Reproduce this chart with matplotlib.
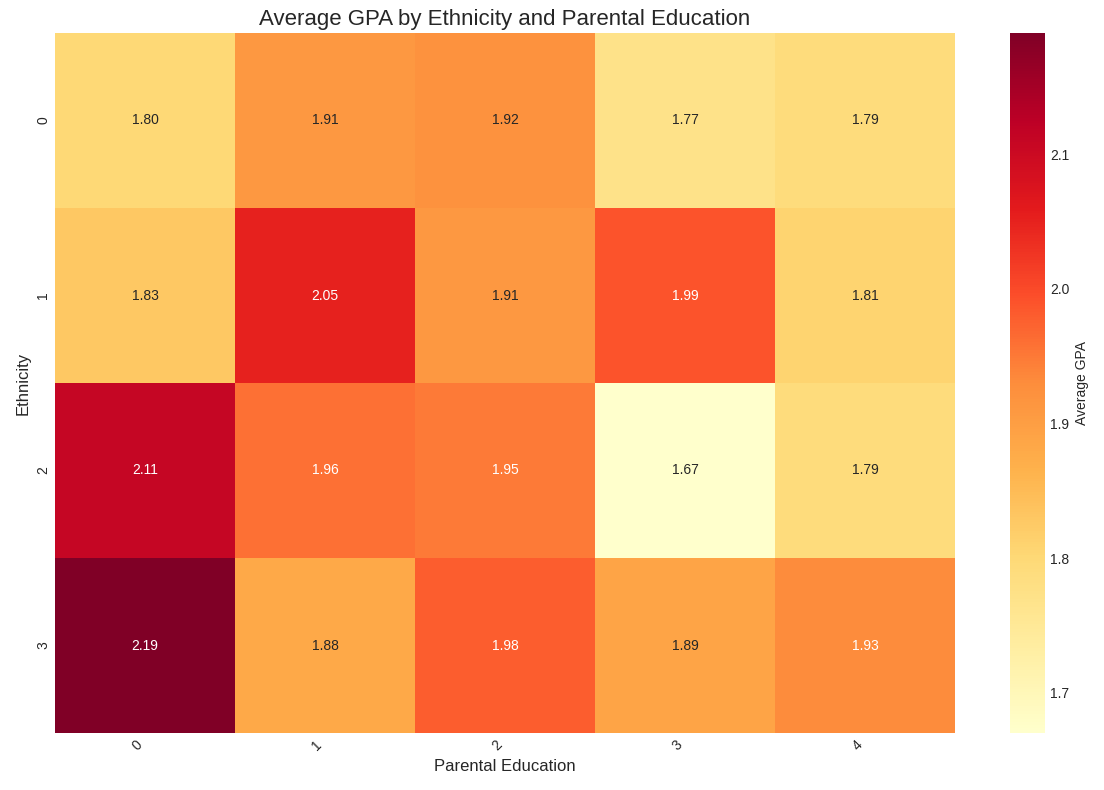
import matplotlib
matplotlib.use("Agg")
import matplotlib.pyplot as plt
import seaborn as sns
import pandas as pd

ethnicity = [0, 1, 2, 3]
parental_education = [0, 1, 2, 3, 4]
avg_gpa = [
    [1.80, 1.91, 1.92, 1.77, 1.79],
    [1.83, 2.05, 1.91, 1.99, 1.81],
    [2.11, 1.96, 1.95, 1.67, 1.79],
    [2.19, 1.88, 1.98, 1.89, 1.93],
]

sns.set_style("whitegrid")
plt.rcParams["font.family"] = ["Liberation Sans", "DejaVu Sans"]

df = pd.DataFrame(avg_gpa, index=ethnicity, columns=parental_education)

W, H = 1104, 790
fig = plt.figure(figsize=(11.04, 7.9), dpi=100)
ax = fig.add_axes([55 / W, 57 / H, 900 / W, 700 / H])
cax = fig.add_axes([1010 / W, 57 / H, 35 / W, 700 / H])
sns.heatmap(df, annot=True, fmt=".2f", cmap="YlOrRd", ax=ax, cbar_ax=cax,
            cbar_kws={"label": "Average GPA"})
cax.tick_params(length=0, labelsize=10)
ax.set_title("Average GPA by Ethnicity and Parental Education", fontsize=16)
ax.set_xlabel("Parental Education", fontsize=12)
ax.set_ylabel("Ethnicity", fontsize=12)
ax.tick_params(length=0)
plt.setp(ax.get_xticklabels(), rotation=45, ha="right")
plt.savefig("out.png", dpi=100)
plt.close()
